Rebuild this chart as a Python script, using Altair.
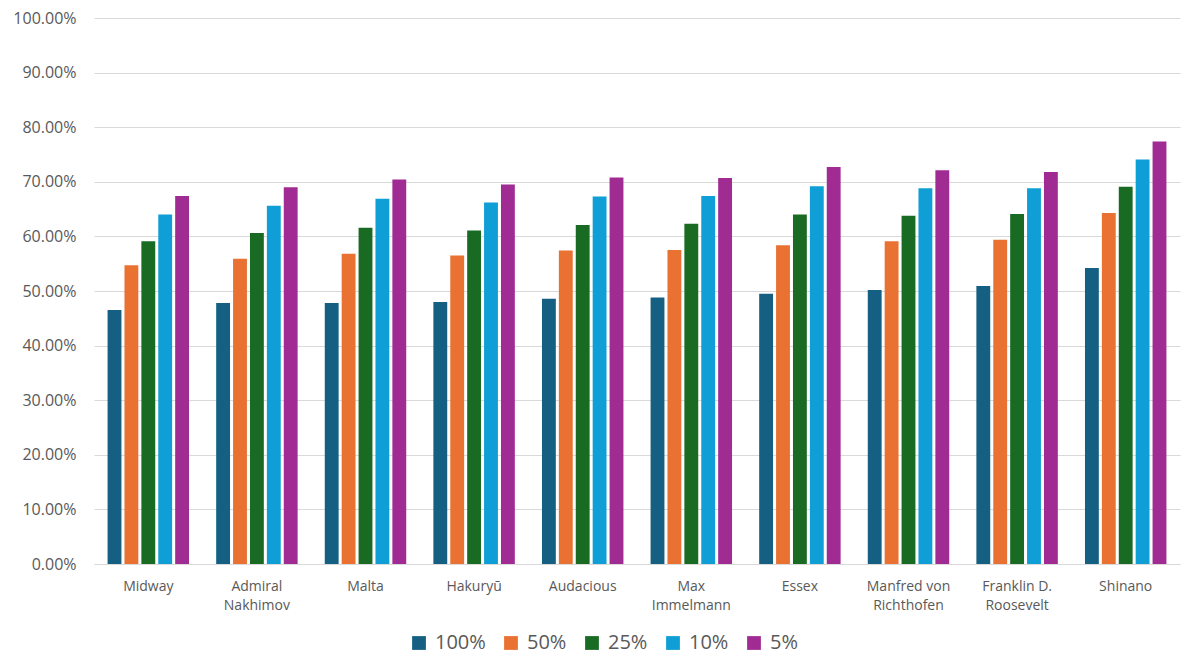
import altair as alt
import pandas as pd

ships = ["Midway", "Admiral Nakhimov", "Malta", "Hakuryū", "Audacious",
         "Max Immelmann", "Essex", "Manfred von Richthofen",
         "Franklin D. Roosevelt", "Shinano"]
series = ["100%", "50%", "25%", "10%", "5%"]

v100 = [46.5, 47.8, 47.8, 48.0, 48.6, 48.8, 49.5, 50.2, 50.9, 54.2]
v50 = [54.7, 55.9, 56.8, 56.5, 57.4, 57.5, 58.4, 59.1, 59.4, 64.3]
v25 = [59.1, 60.6, 61.6, 61.1, 62.1, 62.3, 64.0, 63.8, 64.1, 69.1]
v10 = [64.0, 65.6, 66.9, 66.2, 67.3, 67.4, 69.2, 68.8, 68.8, 74.1]
v5 = [67.4, 69.0, 70.4, 69.5, 70.8, 70.7, 72.7, 72.1, 71.8, 77.4]

colors = ["#156082", "#E97132", "#196B24", "#0F9ED5", "#A02B93"]
y_ticks = [i / 10 for i in range(11)]

rows = []
for name, vals in zip(series, [v100, v50, v25, v10, v5]):
    for s, v in zip(ships, vals):
        rows.append({"ship": s, "series": name, "value": v / 100})
df = pd.DataFrame(rows)

label_expr = ("indexof(datum.value, ' ') < 0 ? datum.value : "
              "[slice(datum.value, 0, lastindexof(datum.value, ' ')), "
              "slice(datum.value, lastindexof(datum.value, ' ') + 1)]")

chart = alt.Chart(df).mark_bar().encode(
    x=alt.X("ship:N", sort=ships,
            scale=alt.Scale(paddingInner=0.25, paddingOuter=0.125),
            axis=alt.Axis(title=None, labelAngle=0, labelExpr=label_expr,
                          labelFontSize=14, labelColor="#595959",
                          ticks=False, tickSize=0, domainColor="#d9d9d9",
                          labelPadding=15, labelLineHeight=19)),
    xOffset=alt.XOffset("series:N", sort=series,
                        scale=alt.Scale(paddingInner=0.18)),
    y=alt.Y("value:Q", scale=alt.Scale(domain=[0, 1]),
            axis=alt.Axis(title=None, format=".2%", values=y_ticks,
                          domain=False, ticks=False, tickSize=0,
                          labelPadding=18, gridColor="#d9d9d9",
                          labelFontSize=16, labelColor="#595959")),
    color=alt.Color("series:N", sort=series,
                    scale=alt.Scale(domain=series, range=colors),
                    legend=alt.Legend(title=None, orient="none",
                                      legendX=315, legendY=615,
                                      direction="horizontal",
                                      symbolType="square", symbolSize=190,
                                      symbolStrokeWidth=0,
                                      labelFontSize=20, labelColor="#595959",
                                      labelOffset=6, columnPadding=15)),
).properties(
    width=1086, height=546,
    autosize=alt.AutoSizeParams(type="none"),
    padding={"left": 86, "top": 10, "right": 12, "bottom": 96},
).configure(font="Open Sans", view=alt.ViewConfig(stroke=None))

chart.save("out.html", embed_options={"renderer": "svg", "actions": False})
